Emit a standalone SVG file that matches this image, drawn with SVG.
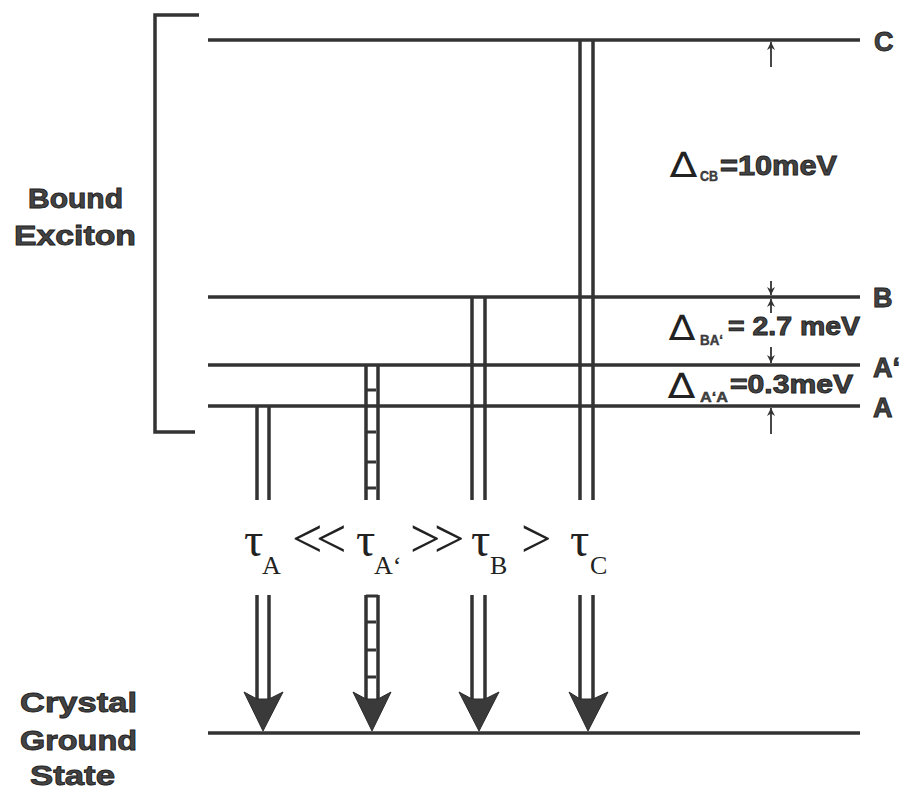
<svg xmlns="http://www.w3.org/2000/svg" width="907" height="792" viewBox="0 0 907 792">
<defs>
<style>
.lvl{stroke:#333;stroke-width:3.5;fill:none}
.tr{stroke:#333;stroke-width:3.5;fill:none}
.rung{stroke:#333;stroke-width:3;fill:none}
.head{fill:#3a3a3a;stroke:#2a2a2a;stroke-width:1}
.thin{stroke:#333;stroke-width:1.8;fill:none}
.lab{font-family:"Liberation Sans",Arial,sans-serif;font-weight:bold;fill:#444;stroke:#222;stroke-width:0.9}
.sub{font-family:"Liberation Sans",Arial,sans-serif;font-weight:bold;fill:#444;stroke:#222;stroke-width:0.4}
.dl{font-family:"DejaVu Sans",sans-serif;font-weight:normal;fill:#222}
.ser{font-family:"Liberation Serif","Times New Roman",serif;fill:#222}
</style>
<marker id="sa" viewBox="0 0 10 10" refX="10" refY="5" markerWidth="8" markerHeight="8" markerUnits="userSpaceOnUse" orient="auto">
<path d="M0,0 L10,5 L0,10 L3,5 Z" fill="#333"/>
</marker>
</defs>
<rect width="907" height="792" fill="#fff"/>

<g id="bracket">
<path class="lvl" d="M199,15 H155 V432 H195" stroke-width="3"/>
</g>

<g id="level-C"><line class="lvl" x1="208" y1="40" x2="860" y2="40"/><text class="lab" x="874" y="51" font-size="27">C</text></g>
<g id="level-B"><line class="lvl" x1="208" y1="297" x2="860" y2="297"/><text class="lab" x="873" y="307" font-size="27">B</text></g>
<g id="level-Aprime"><line class="lvl" x1="208" y1="365" x2="860" y2="365"/><text class="lab" x="873" y="377" font-size="27">A‘</text></g>
<g id="level-A"><line class="lvl" x1="208" y1="406" x2="860" y2="406"/><text class="lab" x="873" y="417" font-size="27">A</text></g>
<g id="ground"><line class="lvl" x1="208" y1="733" x2="860" y2="733"/></g>

<g id="label-bound">
<text class="lab" x="28" y="208" font-size="27" textLength="95" lengthAdjust="spacingAndGlyphs">Bound</text>
<text class="lab" x="14" y="245" font-size="27" textLength="122" lengthAdjust="spacingAndGlyphs">Exciton</text>
</g>
<g id="label-ground">
<text class="lab" x="20" y="712" font-size="28" textLength="117" lengthAdjust="spacingAndGlyphs">Crystal</text>
<text class="lab" x="20" y="750" font-size="28" textLength="117" lengthAdjust="spacingAndGlyphs">Ground</text>
<text class="lab" x="30" y="785" font-size="28" textLength="85" lengthAdjust="spacingAndGlyphs">State</text>
</g>

<g id="delta-CB">
<text class="dl" x="670" y="177" font-size="35" textLength="27" lengthAdjust="spacingAndGlyphs">∆</text>
<text class="sub" x="700" y="181" font-size="14" textLength="18" lengthAdjust="spacingAndGlyphs">CB</text>
<text class="lab" x="720" y="175" font-size="27" textLength="117" lengthAdjust="spacingAndGlyphs">=10meV</text>
</g>
<g id="delta-BA">
<text class="dl" x="669" y="340" font-size="35" textLength="26" lengthAdjust="spacingAndGlyphs">∆</text>
<text class="sub" x="700" y="345" font-size="14" textLength="23" lengthAdjust="spacingAndGlyphs">BA‘</text>
<text class="lab" x="728" y="335" font-size="25" textLength="132" lengthAdjust="spacingAndGlyphs">= 2.7 meV</text>
</g>
<g id="delta-AA">
<text class="dl" x="668" y="398" font-size="35" textLength="27" lengthAdjust="spacingAndGlyphs">∆</text>
<text class="sub" x="700" y="402" font-size="14" textLength="28" lengthAdjust="spacingAndGlyphs">A‘A</text>
<text class="lab" x="730" y="393" font-size="25" textLength="123" lengthAdjust="spacingAndGlyphs">=0.3meV</text>
</g>

<g id="connectors">
<line class="thin" x1="771" y1="67" x2="771" y2="42" marker-end="url(#sa)"/>
<line class="thin" x1="771" y1="281" x2="771" y2="295" marker-end="url(#sa)"/>
<line class="thin" x1="771" y1="313" x2="771" y2="299" marker-end="url(#sa)"/>
<line class="thin" x1="771" y1="347" x2="771" y2="363" marker-end="url(#sa)"/>
<line class="thin" x1="771" y1="434" x2="771" y2="408" marker-end="url(#sa)"/>

<g id="tr-A">
<line class="tr" x1="257" y1="406" x2="257" y2="500"/><line class="tr" x1="269" y1="406" x2="269" y2="500"/>
<line class="tr" x1="257" y1="595" x2="257" y2="700"/><line class="tr" x1="269" y1="595" x2="269" y2="700"/>
<polygon class="head" points="244,692 257,699 269,699 283,692 263,731"/>
</g>
<g id="tr-Aprime">
<line class="tr" x1="366" y1="365" x2="366" y2="500"/><line class="tr" x1="378" y1="365" x2="378" y2="500"/>
<line class="rung" x1="366" y1="390" x2="376" y2="390"/>
<line class="rung" x1="366" y1="432" x2="376" y2="432"/>
<line class="rung" x1="366" y1="462" x2="376" y2="462"/>
<line class="rung" x1="366" y1="488" x2="376" y2="488"/>
<line class="tr" x1="366" y1="595" x2="366" y2="700"/><line class="tr" x1="378" y1="595" x2="378" y2="700"/>
<line class="rung" x1="366" y1="596" x2="378" y2="596"/>
<line class="rung" x1="366" y1="622" x2="376" y2="622"/>
<line class="rung" x1="366" y1="650" x2="376" y2="650"/>
<line class="rung" x1="366" y1="677" x2="376" y2="677"/>
<polygon class="head" points="353,692 366,699 378,699 391,692 372,731"/>
</g>
<g id="tr-B">
<line class="tr" x1="472" y1="297" x2="472" y2="500"/><line class="tr" x1="485" y1="297" x2="485" y2="500"/>
<line class="tr" x1="472" y1="595" x2="472" y2="700"/><line class="tr" x1="485" y1="595" x2="485" y2="700"/>
<polygon class="head" points="459,692 472,699 485,699 499,692 479,731"/>
</g>
<g id="tr-C">
<line class="tr" x1="580" y1="40" x2="580" y2="500"/><line class="tr" x1="593" y1="40" x2="593" y2="500"/>
<line class="tr" x1="580" y1="595" x2="580" y2="700"/><line class="tr" x1="593" y1="595" x2="593" y2="700"/>
<polygon class="head" points="569,692 580,699 593,699 608,692 588,731"/>
</g>
</g>

<g id="lifetimes">
<text class="ser"><tspan x="244" y="556" font-size="48">τ</tspan><tspan x="262" y="574" font-size="26">A</tspan><tspan x="292 316" y="557" font-size="54">&lt;&lt;</tspan><tspan x="356" y="556" font-size="48">τ</tspan><tspan x="374" y="574" font-size="26">A‘</tspan><tspan x="410 434" y="557" font-size="54">&gt;&gt;</tspan><tspan x="471" y="556" font-size="48">τ</tspan><tspan x="490" y="574" font-size="26">B</tspan><tspan x="521" y="557" font-size="54">&gt;</tspan><tspan x="570" y="556" font-size="48">τ</tspan><tspan x="590" y="574" font-size="26">C</tspan></text>
</g>
</svg>
